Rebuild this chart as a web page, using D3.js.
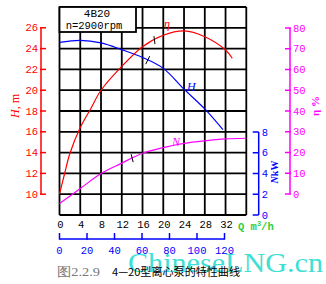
<!DOCTYPE html>
<html><head><meta charset="utf-8">
<script src="https://cdn.jsdelivr.net/npm/d3@7"></script>
<style>body{margin:0;background:#fff}svg{display:block}</style>
</head><body>
<script>
// ---- data ----
const qTicks = [0,4,8,12,16,20,24,28,32];
const hTicks = [10,12,14,16,18,20,22,24,26];
const etaTicks = [0,10,20,30,40,50,60,70,80];
const nTicks = [0,2,4,6,8];
const q2Ticks = [0,20,40,60,80,100,120];

const hQ   = [0,4,8,12,16,20,24,28,31.5];
const hVal = [24.6,24.8,24.55,23.9,23.15,22.1,20.1,18.2,16.2];
const etaQ   = [0,1,2,4,6,8,12,16,20,24,28,32,33.3];
const etaVal = [0,10,19.5,32,41,50,61.5,71,76.5,78.6,75.8,69.4,65.4];
const nQ   = [0,4,8,12,16,20,24,28,32,36];
const nVal = [1.1,2.55,4.0,5.0,5.95,6.5,6.9,7.15,7.33,7.4];

const pumpModel = "4B20";
const speedText = "n=2900rpm";
const captionFig = "图2.2.9";
const captionText = "4—20型离心泵的特性曲线";
const watermark = "ChineseLNG.cn";

// ---- scales ----
const W = 326, H = 284;
const svg = d3.select("body").append("svg").attr("width", W).attr("height", H);
const x = d3.scaleLinear().domain([0,36]).range([59.5,246.3]);
const yH = d3.scaleLinear().domain([8,28]).range([215,7]);
const yE = d3.scaleLinear().domain([0,80]).range([194,28]);
const yN = d3.scaleLinear().domain([0,8]).range([215,132]);
const x2 = d3.scaleLinear().domain([0,120]).range([59.5,224.5]);

const mono = "'Liberation Mono', 'DejaVu Sans Mono', monospace";
const serif = "'Liberation Serif', 'DejaVu Serif', serif";
const RED = "#ff0000", BLUE = "#0000ff", MAG = "#ff00ff", GREEN = "#33cc33";

// watermark (behind)
svg.append("text").attr("x",128).attr("y",272)
  .attr("textLength",195).attr("lengthAdjust","spacingAndGlyphs")
  .style("font-family",serif).style("font-size","27px").attr("fill","#3ee0d4")
  .text(watermark);

// grid
const grid = svg.append("g").attr("stroke","#000").attr("stroke-width",1.8);
d3.range(0,37,4).forEach(q=>{
  grid.append("line").attr("x1",x(q)).attr("x2",x(q)).attr("y1",yH(28)).attr("y2",yH(8));
});
d3.range(8,29,2).forEach(h=>{
  grid.append("line").attr("x1",x(0)).attr("x2",x(36)).attr("y1",yH(h)).attr("y2",yH(h));
});

// curves
const line = (ys)=>d3.line().x(d=>x(d[0])).y(d=>ys(d[1])).curve(d3.curveCatmullRom);
const curve = (qs,vs,ys,color)=>svg.append("path").datum(qs.map((q,i)=>[q,vs[i]]))
  .attr("d",line(ys)).attr("fill","none").attr("stroke",color).attr("stroke-width",1.2);
curve(hQ,hVal,yH,BLUE);
curve(etaQ,etaVal,yE,RED);
curve(nQ,nVal,yN,MAG);

// small marks on curves
function mark(q, ys, qs, vs, dx1, dy1, dx2, dy2){
  let i = d3.bisectRight(qs,q)-1; i=Math.max(0,Math.min(i,qs.length-2));
  const t=(q-qs[i])/(qs[i+1]-qs[i]); const val=vs[i]+t*(vs[i+1]-vs[i]);
  const cx=x(q), cy=ys(val);
  svg.append("line").attr("x1",cx+dx1).attr("y1",cy+dy1).attr("x2",cx+dx2).attr("y2",cy+dy2)
    .attr("stroke","#000").attr("stroke-width",1);
}
mark(17,yH,hQ,hVal,-2,4,2,-4);
mark(18.3,yE,etaQ,etaVal,-0.5,-4,0.5,4);
mark(14,yN,nQ,nVal,-1,-4,1,4);

// curve labels
svg.append("text").attr("x",164).attr("y",28).attr("fill",RED)
  .style("font-family",serif).style("font-style","italic").style("font-size","12px").text("η");
svg.append("text").attr("x",187).attr("y",91).attr("fill",BLUE)
  .style("font-family",serif).style("font-style","italic").style("font-size","12px").text("H");
svg.append("text").attr("x",172).attr("y",146).attr("fill",MAG)
  .style("font-family",serif).style("font-style","italic").style("font-size","12px").text("N");

// info box
svg.append("rect").attr("x",x(0)).attr("y",7).attr("width",136-x(0)).attr("height",25)
  .attr("fill","#fff").attr("stroke","#000").attr("stroke-width",1.8);
svg.append("text").attr("x",97).attr("y",16.5).attr("text-anchor","middle")
  .style("font-family",mono).style("font-size","11px").text(pumpModel);
svg.append("text").attr("x",94).attr("y",29).attr("text-anchor","middle")
  .style("font-family",mono).style("font-size","10.5px").text(speedText);

// H axis (left, red)
const gH = svg.append("g").attr("transform","translate(41,0)");
gH.append("line").attr("x1",0).attr("x2",0).attr("y1",yH(26)).attr("y2",yH(10)).attr("stroke",RED).attr("stroke-width",1.5);
hTicks.forEach(t=>{
  gH.append("line").attr("x1",-1).attr("x2",5).attr("y1",yH(t)).attr("y2",yH(t)).attr("stroke",RED).attr("stroke-width",1.5);
  gH.append("text").attr("x",-3).attr("y",yH(t)).attr("dy","0.35em").attr("text-anchor","end")
    .attr("fill",RED).style("font-family",mono).style("font-size","10.5px").text(t);
});
svg.append("text").attr("transform","translate(19,106) rotate(-90)").attr("text-anchor","middle")
  .attr("fill",RED).style("font-family",serif).style("font-size","12px")
  .html('<tspan font-style="italic">H</tspan>, m');

// N axis (right, blue)
const gN = svg.append("g").attr("transform","translate(258.7,0)");
gN.append("line").attr("y1",yN(8)).attr("y2",yN(0)).attr("stroke",BLUE).attr("stroke-width",1.5);
nTicks.forEach(t=>{
  gN.append("line").attr("x1",-6).attr("x2",0).attr("y1",yN(t)).attr("y2",yN(t)).attr("stroke",BLUE).attr("stroke-width",1.5);
  gN.append("text").attr("x",3).attr("y",yN(t)).attr("dy","0.35em")
    .attr("fill",BLUE).style("font-family",mono).style("font-size","10.5px").text(t);
});
svg.append("text").attr("transform","translate(278,172) rotate(-90)").attr("text-anchor","middle")
  .attr("fill",BLUE).style("font-family",serif).style("font-size","10px").style("font-weight","bold")
  .html('<tspan font-style="italic">N</tspan>kW');

// eta axis (right, magenta)
const gE = svg.append("g").attr("transform","translate(290,0)");
gE.append("line").attr("y1",yE(80)).attr("y2",yE(0)).attr("stroke",MAG).attr("stroke-width",1.5);
etaTicks.forEach(t=>{
  gE.append("line").attr("x1",-5).attr("x2",1).attr("y1",yE(t)).attr("y2",yE(t)).attr("stroke",MAG).attr("stroke-width",1.5);
  gE.append("text").attr("x",3).attr("y",yE(t)).attr("dy","0.35em")
    .attr("fill",MAG).style("font-family",mono).style("font-size","10.5px").text(t);
});
svg.append("text").attr("transform","translate(319,106) rotate(-90)").attr("text-anchor","middle")
  .attr("fill",MAG).style("font-family",serif).style("font-size","11px").style("font-weight","bold")
  .text("η %");

// Q axis labels (black)
qTicks.forEach(t=>{
  svg.append("text").attr("x",x(t)+1).attr("y",224).attr("dy","0.35em").attr("text-anchor","middle")
    .style("font-family",mono).style("font-size","10.5px").text(t);
});
svg.append("text").attr("x",238).attr("y",230).attr("fill",GREEN)
  .style("font-family",mono).style("font-size","10.5px").style("font-weight","bold")
  .html('Q m<tspan baseline-shift="super" font-size="7px">3</tspan>/h');

// second flow axis (blue)
const g2 = svg.append("g");
g2.append("line").attr("x1",x2(0)).attr("x2",x2(120)).attr("y1",239).attr("y2",239).attr("stroke",BLUE).attr("stroke-width",1.5);
q2Ticks.forEach(t=>{
  g2.append("line").attr("x1",x2(t)).attr("x2",x2(t)).attr("y1",233).attr("y2",239.7).attr("stroke",BLUE).attr("stroke-width",1.5);
  g2.append("text").attr("x",x2(t)).attr("y",250).attr("dy","0.35em").attr("text-anchor","middle")
    .attr("fill",BLUE).style("font-family",mono).style("font-size","10.5px").text(t);
});

// caption
svg.append("text").attr("x",57).attr("y",276).attr("fill","#777")
  .style("font-family",serif).style("font-size","13px")
  .attr("textLength",43).attr("lengthAdjust","spacingAndGlyphs").text(captionFig);
svg.append("text").attr("x",112).attr("y",276).attr("fill","#000")
  .style("font-family","'Noto Sans CJK SC', sans-serif").style("font-size","11px")
  .attr("textLength",128).attr("lengthAdjust","spacingAndGlyphs").text(captionText);
</script>
</body></html>
